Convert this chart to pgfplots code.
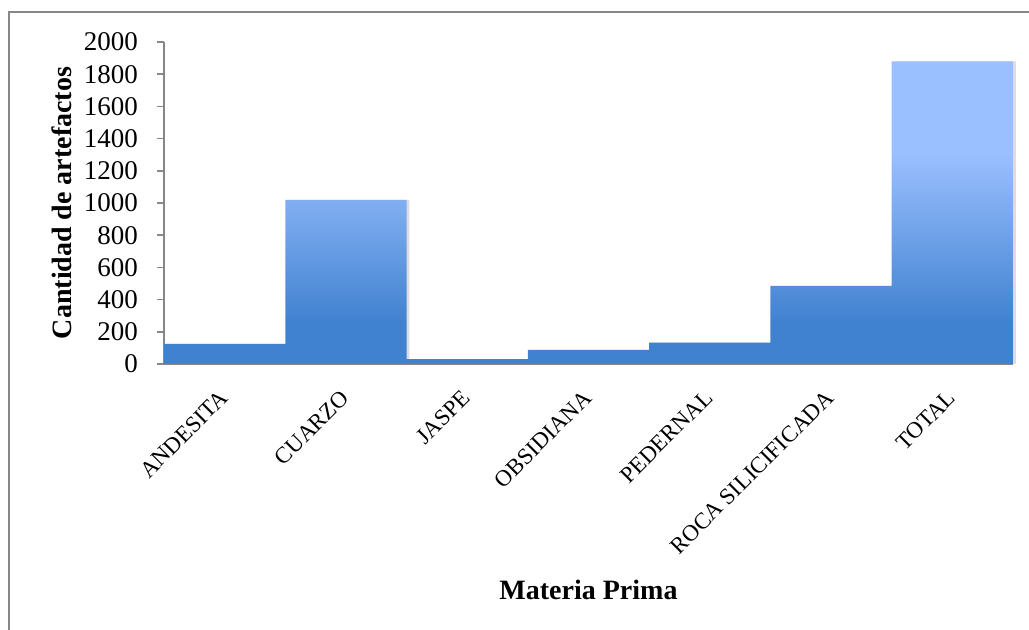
\documentclass[border=0pt]{standalone}
\usepackage{fontspec}
\setmainfont{Liberation Serif}
\usepackage{pgfplots}
\pgfplotsset{compat=1.18}

\definecolor{barlight}{RGB}{155,192,255}
\definecolor{bardark}{RGB}{65,130,208}
\definecolor{framegray}{RGB}{135,135,135}

% light at the top of each bar, darker towards its base
\pgfdeclareverticalshading{barshade}{100bp}{%
  color(0bp)=(bardark); color(25bp)=(bardark); color(32bp)=(bardark);
  color(60bp)=(barlight); color(75bp)=(barlight); color(100bp)=(barlight)}

\pgfplotstableread{
x  n
0  125
1  1020
2  30
3  87
4  133
5  485
6  1880
}\materias

\begin{document}
\begin{tikzpicture}
\useasboundingbox (0,0) rectangle (514.5pt,315pt);
% outer frame of the chart area
\draw[framegray, line width=1pt] (4.5pt,0) -- (4.5pt,309pt) -- (514.5pt,309pt);
\begin{axis}[
  at={(82pt,133pt)}, anchor=south west,
  scale only axis, width=424.5pt, height=161pt,
  xmin=-0.5, xmax=6.5, ymin=0, ymax=2000,
  axis x line=bottom, axis y line=left,
  axis line style={-, draw=framegray, line width=0.8pt},
  xtick=data,
  xticklabels={ANDESITA, CUARZO, JASPE, OBSIDIANA, PEDERNAL, ROCA SILICIFICADA, TOTAL},
  x tick style={draw=none},
  x tick label style={xshift=-3.2pt, yshift=-7.2pt, rotate=45, anchor=north east,
    font=\fontsize{11.5}{13}\selectfont, inner sep=1pt},
  ytick={0,200,...,2000},
  y tick style={draw=framegray, line width=0.8pt},
  tick align=outside, major tick length=3.5pt,
  y tick label style={xshift=-6pt, font=\fontsize{13.5}{15}\selectfont},
  /pgf/number format/assume math mode=true,
  /pgf/number format/set thousands separator={},
  ylabel={\textbf{Cantidad de artefactos}},
  ylabel style={at={(axis description cs:-0.12,0.5)}, anchor=center, font=\fontsize{14}{16}\selectfont},
  xlabel={\textbf{Materia Prima}},
  xlabel style={at={(axis description cs:0.5,-0.702)}, anchor=center, font=\fontsize{14}{16}\selectfont},
  clip=false,
]
% soft shadow just behind each bar
\addplot[ybar, bar width=1, bar shift=1.4pt, draw=none, fill=black!22, opacity=0.6]
  table[x=x, y=n] {\materias};
\addplot[ybar, bar width=1, draw=none, shading=barshade]
  table[x=x, y=n] {\materias};
\end{axis}
\end{tikzpicture}
\end{document}
